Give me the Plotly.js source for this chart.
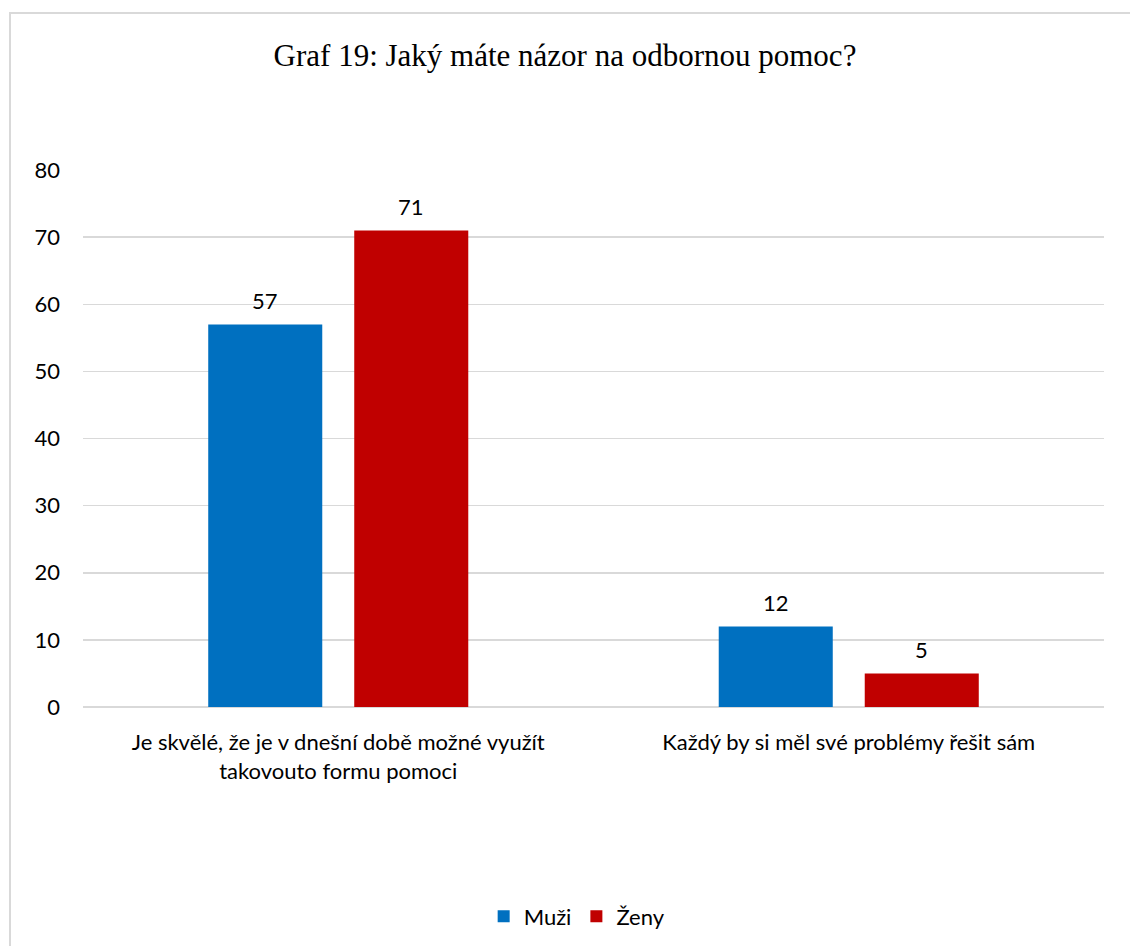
<!DOCTYPE html>
<html>
<head>
<meta charset="utf-8">
<script src="https://cdn.plot.ly/plotly-3.0.1.min.js"></script>
<style>
  html, body { margin: 0; padding: 0; background: #fff; }
  #wrap { position: relative; width: 1130px; height: 946px; overflow: hidden; }
  #chart { width: 1130px; height: 946px; }
  #frame { position: absolute; left: 9px; top: 12px; width: 1130px; height: 946px;
           border-left: 2px solid #d9d9d9; border-top: 2px solid #d9d9d9; pointer-events: none; }
</style>
</head>
<body>
<div id="wrap">
  <div id="chart"></div>
  <div id="frame"></div>
</div>
<script>
const categories = [
  "Je skvělé, že je v dnešní době možné využít<br>takovouto formu pomoci",
  "Každý by si měl své problémy řešit sám"
];
const muzi = [57, 12];
const zeny = [71, 5];
const seriesNames = ["Muži", "Ženy"];
const tickVals = [0, 10, 20, 30, 40, 50, 60, 70, 80];

const bodyFont = "Lato, 'Open Sans', sans-serif";

const traces = [
  { type: "bar", name: seriesNames[0], x: categories, y: muzi,
    marker: { color: "#0070C0" } },
  { type: "bar", name: seriesNames[1], x: categories, y: zeny,
    marker: { color: "#C00000" } }
];

// value labels above bars, positioned via the axes' own scales
const annotations = [];
[muzi, zeny].forEach((vals, s) => {
  vals.forEach((v, i) => {
    annotations.push({
      x: categories[i], y: v, xref: "x", yref: "y",
      text: String(v), showarrow: false,
      xshift: s === 0 ? -73 : 73, yshift: 24, yanchor: "middle",
      font: { family: bodyFont, size: 22, color: "#000" }
    });
  });
});

const layout = {
  width: 1130, height: 946,
  paper_bgcolor: "#fff", plot_bgcolor: "#fff",
  margin: { l: 83, r: 26, t: 170, b: 239, autoexpand: false },
  title: { text: "Graf 19: Jaký máte názor na odbornou pomoc?",
           font: { family: "'Liberation Serif', 'Times New Roman', serif", size: 31, color: "#000" },
           x: 0.5, xref: "container", xanchor: "center", y: 0.942, yref: "container", yanchor: "middle" },
  barmode: "group", bargap: 0.428, bargroupgap: 0.219,
  xaxis: { type: "category", showgrid: false, zeroline: false, showline: false, ticks: "", automargin: false,
           tickfont: { family: bodyFont, size: 22, color: "#000" }, ticklabelstandoff: 20 },
  yaxis: { range: [0, 80], tickvals: tickVals, showgrid: true, gridcolor: "#d9d9d9", gridwidth: 1.5,
           zeroline: true, zerolinecolor: "#d9d9d9", zerolinewidth: 1.5, showline: false, ticks: "", automargin: false,
           tickfont: { family: bodyFont, size: 22, color: "#000" }, ticklabelstandoff: 22 },
  annotations: annotations,
  showlegend: true,
  legend: { orientation: "h", x: 0.484, xanchor: "center", y: -0.39, yanchor: "middle",
            font: { family: bodyFont, size: 22, color: "#000" }, traceorder: "normal" }
};

Plotly.newPlot("chart", traces, layout, { displayModeBar: false, staticPlot: true });
</script>
</body>
</html>
